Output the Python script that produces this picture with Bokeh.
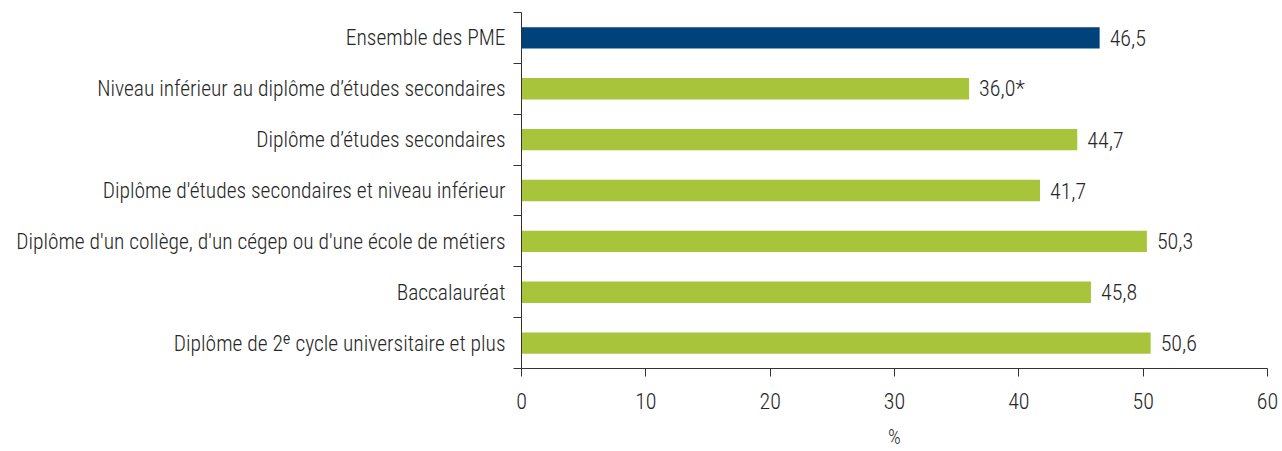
from bokeh.plotting import figure
from bokeh.models import ColumnDataSource, FixedTicker, Range1d
from bokeh.core.properties import value
from bokeh.embed import file_html
from bokeh.resources import INLINE

categories = [
    "Ensemble des PME",
    "Niveau inférieur au diplôme d’études secondaires",
    "Diplôme d’études secondaires",
    "Diplôme d'études secondaires et niveau inférieur",
    "Diplôme d'un collège, d'un cégep ou d'une école de métiers",
    "Baccalauréat",
    "Diplôme de 2ᵉ cycle universitaire et plus",
]
values = [46.5, 36.0, 44.7, 41.7, 50.3, 45.8, 50.6]
value_labels = ["46,5", "36,0*", "44,7", "41,7", "50,3", "45,8", "50,6"]
colors = ["#02427A", "#A7C43A", "#A7C43A", "#A7C43A", "#A7C43A", "#A7C43A", "#A7C43A"]
x_ticks = [0, 10, 20, 30, 40, 50, 60]

FONT = "Roboto Condensed Light, Roboto Condensed"
FS = "21.5px"
FSN = "22px"
TXT = "#262626"

n = len(categories)
ypos = [n - i - 0.5 for i in range(n)]

src = ColumnDataSource(dict(y=ypos, v=values, lab=value_labels, c=colors))

p = figure(width=1282, height=451, output_backend="svg", toolbar_location=None,
           x_range=Range1d(0, 60), y_range=Range1d(0, n),
           min_border_left=521, min_border_right=15, min_border_top=12, min_border_bottom=73)
p.outline_line_color = None
p.xgrid.grid_line_color = None
p.ygrid.grid_line_color = None
p.background_fill_color = "white"
p.border_fill_color = "white"

p.hbar(y="y", right="v", left=0, height=0.42, fill_color="c", line_color=None, source=src)
p.text(x="v", y="y", text="lab", source=src, x_offset=10, text_baseline="middle",
       text_align="left", text_font=value(FONT), text_font_size=FSN, text_color=TXT)

# x axis
xa = p.xaxis[0]
xa.ticker = FixedTicker(ticks=x_ticks)
xa.axis_line_color = "#333333"
xa.major_tick_line_color = "#333333"
xa.major_tick_out = 8
xa.major_tick_in = 0
xa.minor_tick_line_color = None
xa.major_label_text_font = FONT
xa.major_label_text_font_size = FSN
xa.major_label_text_color = TXT
xa.major_label_standoff = 16
xa.axis_label = "%"
xa.axis_label_text_font = FONT
xa.axis_label_text_font_size = "20px"
xa.axis_label_text_font_style = "normal"
xa.axis_label_text_color = TXT
xa.axis_label_standoff = 13

# y axis
ya = p.yaxis[0]
ya.ticker = FixedTicker(ticks=ypos, minor_ticks=list(range(n + 1)))
ya.major_label_overrides = {y: c for y, c in zip(ypos, categories)}
ya.axis_line_color = "#333333"
ya.major_tick_line_color = None
ya.minor_tick_line_color = "#333333"
ya.minor_tick_out = 8
ya.minor_tick_in = 0
ya.major_label_text_font = FONT
ya.major_label_text_font_size = FS
ya.major_label_text_color = TXT
ya.major_label_standoff = 8

open("out.html", "w").write(file_html(p, INLINE))
